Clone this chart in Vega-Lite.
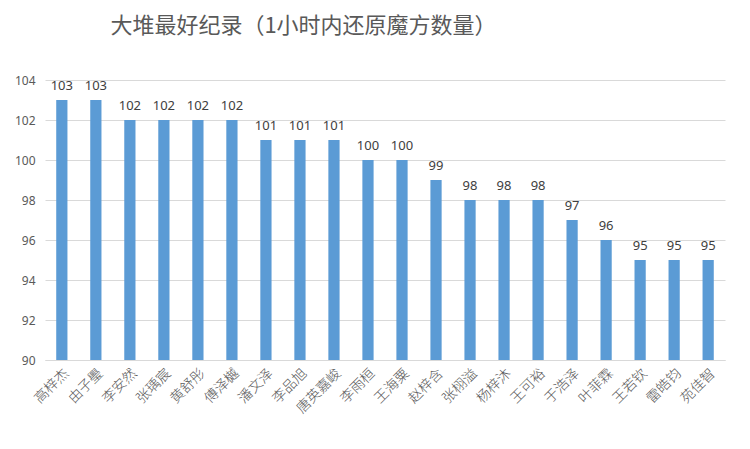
{
  "$schema": "https://vega.github.io/schema/vega-lite/v6.json",
  "autosize": {"type": "none"},
  "width": 680,
  "height": 280,
  "padding": {"left": 45, "top": 80, "right": 25, "bottom": 89},
  "background": "white",
  "title": {
    "text": "大堆最好纪录（1小时内还原魔方数量）",
    "anchor": "start",
    "dx": 96,
    "offset": 36,
    "fontSize": 22,
    "font": "Noto Sans CJK SC",
    "fontWeight": "normal",
    "color": "#595959"
  },
  "data": {
    "values": [
      {"name": "高梓杰", "count": 103},
      {"name": "由子璺", "count": 103},
      {"name": "李安然", "count": 102},
      {"name": "张瑀宸", "count": 102},
      {"name": "黄舒彤", "count": 102},
      {"name": "傅泽樾", "count": 102},
      {"name": "潘文泽", "count": 101},
      {"name": "李品旭", "count": 101},
      {"name": "唐英嘉峻", "count": 101},
      {"name": "李雨桓", "count": 100},
      {"name": "王海粟", "count": 100},
      {"name": "赵梓含", "count": 99},
      {"name": "张栩溢", "count": 98},
      {"name": "杨梓沐", "count": 98},
      {"name": "王可裕", "count": 98},
      {"name": "于浩泽", "count": 97},
      {"name": "叶菲霖", "count": 96},
      {"name": "王若钦", "count": 95},
      {"name": "雷皓钧", "count": 95},
      {"name": "苑佳智", "count": 95}
    ]
  },
  "encoding": {
    "x": {
      "field": "name",
      "type": "nominal",
      "sort": null,
      "scale": {"paddingInner": 0.67, "paddingOuter": 0.33},
      "axis": {
        "title": null,
        "labelAngle": -45,
        "labelFontSize": 14,
        "labelFont": "Noto Sans CJK SC",
        "labelFontWeight": 300,
        "labelColor": "#595959",
        "ticks": false,
        "domainColor": "#d9d9d9",
        "labelPadding": 6
      }
    },
    "y": {
      "field": "count",
      "type": "quantitative",
      "scale": {"domain": [90, 104], "zero": false},
      "axis": {
        "title": null,
        "values": [90, 92, 94, 96, 98, 100, 102, 104],
        "domain": false,
        "ticks": false,
        "labelFontSize": 12,
        "labelColor": "#595959",
        "labelFont": "Noto Sans",
        "labelPadding": 10,
        "gridColor": "#d9d9d9"
      }
    }
  },
  "layer": [
    {"mark": {"type": "bar", "color": "#5B9BD5", "clip": true}},
    {
      "mark": {"type": "text", "dy": -14, "fontSize": 13, "font": "Noto Sans", "color": "#404040"},
      "encoding": {"text": {"field": "count", "type": "quantitative"}}
    }
  ],
  "config": {"view": {"stroke": null}}
}
